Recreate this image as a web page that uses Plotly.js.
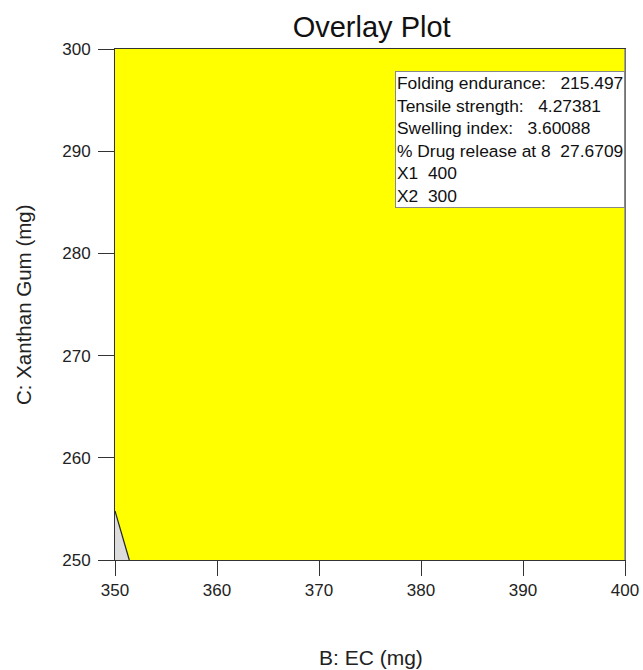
<!DOCTYPE html>
<html>
<head>
<meta charset="utf-8">
<script src="https://cdn.plot.ly/plotly-3.0.1.min.js"></script>
<style>html,body{margin:0;padding:0;background:#fff;}#chart{width:643px;height:670px;}</style>
</head>
<body>
<div id="chart"></div>
<script>
// Feasible (yellow) region vertices: B: EC (mg), C: Xanthan Gum (mg)
const regionX = [351.4, 350, 350, 400, 400, 351.4];
const regionY = [250, 254.8, 300, 300, 250, 250];
// Infeasible (grey) corner
const greyX = [350, 350, 351.4, 350];
const greyY = [250, 254.8, 250, 250];
// Boundary line
const edgeX = [350, 351.4];
const edgeY = [254.8, 250];
// Flag readout
const flagLabels = ["Folding endurance:", "Tensile strength:", "Swelling index:", "% Drug release at 8", "X1", "X2"];
const flagValues = ["215.497", "4.27381", "3.60088", "27.6709", "400", "300"];
const flagSep = ["&nbsp;&nbsp;&nbsp;", "&nbsp;&nbsp;&nbsp;", "&nbsp;&nbsp;&nbsp;", "&nbsp;&nbsp;", "&nbsp;&nbsp;", "&nbsp;&nbsp;"];
const xTicks = [350, 360, 370, 380, 390, 400];
const yTicks = [250, 260, 270, 280, 290, 300];

const font = "Liberation Sans, Arial, sans-serif";
const traces = [
  {x: regionX, y: regionY, type: 'scatter', mode: 'lines', fill: 'toself', fillcolor: '#ffff00', line: {width: 0, color: '#ffff00'}, hoverinfo: 'skip'},
  {x: greyX, y: greyY, type: 'scatter', mode: 'lines', fill: 'toself', fillcolor: '#dcdcdc', line: {width: 0, color: '#dcdcdc'}, hoverinfo: 'skip'},
  {x: edgeX, y: edgeY, type: 'scatter', mode: 'lines', line: {width: 1.2, color: '#222'}, hoverinfo: 'skip'}
];
const flagText = flagLabels.map((l, i) => l + flagSep[i] + flagValues[i]).join('<br>');
const layout = {
  width: 643, height: 670,
  margin: {l: 115, r: 18, t: 49, b: 110},
  paper_bgcolor: '#fff', plot_bgcolor: '#fff',
  showlegend: false,
  font: {family: font, color: '#222', size: 17},
  title: {text: 'Overlay Plot', font: {size: 29, color: '#111', family: font}, x: 0.578, xanchor: 'center', y: 0.960, yanchor: 'middle'},
  xaxis: {range: [350, 400], tickvals: xTicks, ticks: 'outside', ticklen: 15, tickcolor: '#333', showgrid: false, zeroline: false,
    showline: true, linecolor: '#333', linewidth: 1, mirror: true, tickfont: {size: 17}},
  yaxis: {range: [250, 300], tickvals: yTicks, ticks: 'outside', ticklen: 16, tickcolor: '#333', showgrid: false, zeroline: false,
    showline: true, linecolor: '#333', linewidth: 1, mirror: true, tickfont: {size: 17}, ticklabelstandoff: 4},
  shapes: [
    {type: 'line', xref: 'paper', yref: 'paper', x0: 1, x1: 1, y0: 0, y1: 1, line: {color: '#888', width: 1.5}}
  ],
  annotations: [
    {xref: 'paper', yref: 'paper', x: 1, y: 0.957, xanchor: 'right', yanchor: 'top', align: 'left', showarrow: false,
     text: flagText, bgcolor: '#fff', bordercolor: '#888', borderwidth: 1, borderpad: 1,
     font: {size: 17.4, color: '#111', family: font}},
    {xref: 'paper', yref: 'paper', x: 0.502, y: (560 - 658) / 511, xanchor: 'center', yanchor: 'middle', showarrow: false,
     text: 'B: EC (mg)', font: {size: 21, color: '#222', family: font}},
    {xref: 'paper', yref: 'paper', x: (23 - 115) / 510, y: (560 - 305) / 511, xanchor: 'center', yanchor: 'middle', showarrow: false,
     textangle: -90, text: 'C: Xanthan Gum (mg)', font: {size: 20.5, color: '#222', family: font}}
  ]
};
Plotly.newPlot('chart', traces, layout, {staticPlot: true});
</script>
</body>
</html>
